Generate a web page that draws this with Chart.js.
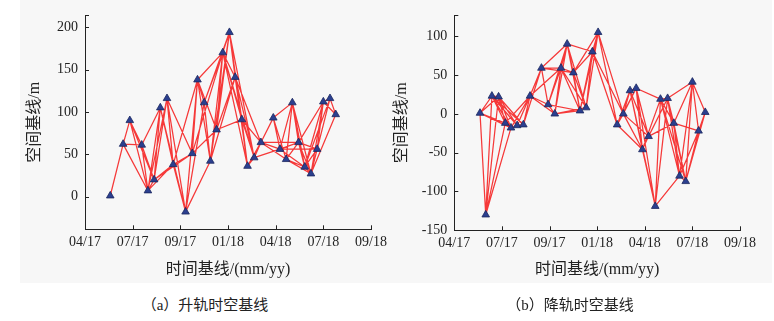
<!DOCTYPE html>
<html>
<head>
<meta charset="utf-8">
<script src="https://cdn.jsdelivr.net/npm/chart.js@4/dist/chart.umd.min.js"></script>
<style>
  html, body { margin: 0; padding: 0; background: #ffffff; }
  #wrap { position: relative; width: 774px; height: 321px; overflow: hidden; background: #ffffff; }
  #panelBg { position: absolute; left: 20px; top: 0; width: 752px; height: 283px; background: #f7f7f7; }
  .cv { position: absolute; top: 0; }
  .cap { position: absolute; top: 294px; font-family: 'Liberation Serif', 'Times New Roman', 'Noto Sans CJK SC', serif; font-size: 15px; color: #222; white-space: nowrap; transform: translateX(-50%); line-height: 22px; }
</style>
</head>
<body>
<div id="wrap">
  <div id="panelBg"></div>
  <div class="cv" style="left:0px;width:392px;height:290px;"><canvas id="cA"></canvas></div>
  <div class="cv" style="left:380px;width:394px;height:290px;"><canvas id="cB"></canvas></div>
  <div class="cap" style="left:205px;">（a）升轨时空基线</div>
  <div class="cap" style="left:570px;">（b）降轨时空基线</div>
</div>
<script>
// ---- tick labels (x positions 0..6) ----
const xTickLabels = ['04/17', '07/17', '09/17', '01/18', '04/18', '07/18', '09/18'];
const yTicksA = [0, 50, 100, 150, 200];
const yTicksB = [-150, -100, -50, 0, 50, 100];

// ---- (a) ascending: acquisition time (axis units) and spatial baseline (m) ----
const timeA = [0.53,0.80,0.94,1.19,1.32,1.45,1.58,1.72,1.85,2.11,2.25,2.36,2.50,2.63,2.76,2.89,3.03,3.15,3.29,3.41,3.55,3.69,3.95,4.09,4.22,4.35,4.48,4.61,4.74,4.87,5.00,5.14,5.26];
const baseA = [1,62,90,61,7,20,105,116,38,-18,51,138,111,42,79,170,194,141,91,36,46,64,93,56,44,111,64,35,27,56,112,116,97];
// interferometric pairs (1-based image indices)
const pairsA = [
  [1,2],[2,3],[2,4],[2,5],[3,4],[3,5],[3,6],[4,5],[4,6],[4,7],
  [5,6],[5,7],[5,8],[5,9],[6,7],[6,8],[6,9],[6,11],[7,9],[7,10],
  [8,9],[8,10],[8,11],[9,10],[9,11],[9,12],[10,12],[10,13],[10,14],
  [11,12],[11,15],[11,16],[12,13],[12,14],[12,15],[12,16],[13,14],[13,16],[13,17],
  [14,16],[14,17],[14,18],[15,16],[15,17],[15,18],[15,19],
  [16,17],[16,18],[16,19],[16,20],[16,21],[17,18],[17,19],[17,20],[17,21],
  [18,19],[18,20],[18,21],[18,22],[19,20],[19,21],[19,22],[20,21],[20,22],[21,22],[21,24],
  [22,23],[22,24],[22,25],[22,27],[23,24],[23,25],[23,26],
  [24,26],[24,27],[24,28],[24,30],[25,26],[25,27],[25,28],[25,29],
  [26,27],[26,28],[26,29],[27,28],[27,29],[27,30],[27,31],
  [28,29],[28,30],[28,31],[28,32],[29,30],[29,31],[29,32],[29,33],
  [30,31],[30,32],[31,32],[31,33],[32,33]
];

// ---- (b) descending ----
const timeB = [0.54,0.66,0.79,0.93,1.07,1.19,1.32,1.45,1.59,1.83,1.97,2.11,2.24,2.37,2.50,2.64,2.77,2.90,3.02,3.42,3.55,3.69,3.82,3.95,4.08,4.22,4.33,4.48,4.61,4.73,4.86,5.00,5.13,5.27];
const baseB = [1,-130,23,22,-12,-18,-15,-14,23,59,12,0,59,90,53,4,8,80,105,-14,0,30,33,-46,-29,-119,19,20,-12,-80,-87,41,-22,2];
const pairsB = [
  [1,2],[1,3],[1,4],[1,5],[1,6],[2,3],[2,4],[2,5],[2,6],
  [3,4],[3,5],[3,6],[3,7],[3,8],[4,5],[4,6],[4,7],[4,8],
  [5,6],[5,9],[6,7],[6,9],[7,8],[7,9],[8,9],[8,10],
  [9,10],[9,11],[9,12],[9,13],[10,11],[10,13],[10,14],[10,15],
  [11,12],[11,13],[11,14],[11,16],[12,13],[12,14],[12,16],[12,17],
  [13,14],[13,15],[13,16],[13,17],[14,15],[14,16],[14,17],[14,18],
  [15,16],[15,17],[15,18],[15,19],[16,18],[16,19],[17,18],[17,19],[18,19],
  [18,20],[18,21],[19,20],[19,21],
  [20,21],[20,22],[20,23],[20,24],[21,22],[21,23],[21,24],[21,25],
  [22,23],[22,24],[22,25],[22,26],[23,24],[23,25],[23,26],[23,27],
  [24,25],[24,26],[24,27],[25,28],[25,29],[26,27],[26,28],[26,30],
  [27,28],[27,29],[27,30],[27,31],[28,29],[28,30],[28,31],[28,32],
  [29,30],[29,31],[29,32],[29,33],[30,31],[30,32],[30,33],
  [31,32],[31,33],[31,34],[32,33],[32,34],[33,34]
];

const FONT_FAMILY = "'Liberation Serif', 'Times New Roman', 'Noto Sans CJK SC', serif";

function buildEdges(t, b, pairs) {
  const out = [];
  pairs.forEach(([i, j]) => {
    out.push({x: t[i - 1], y: b[i - 1]});
    out.push({x: t[j - 1], y: b[j - 1]});
    out.push({x: t[j - 1], y: null});
  });
  return out;
}

const innerTicks = {
  id: 'innerTicks',
  afterDraw(chart) {
    const {ctx, chartArea} = chart;
    const xs = chart.scales.x, ys = chart.scales.y;
    ctx.save();
    ctx.strokeStyle = '#222';
    ctx.lineWidth = 1;
    ctx.beginPath();
    xs.ticks.forEach(tk => {
      const px = Math.round(xs.getPixelForValue(tk.value)) + 0.5;
      ctx.moveTo(px, chartArea.bottom);
      ctx.lineTo(px, chartArea.bottom - 4);
    });
    const yv = ys.ticks.map(tk => tk.value).concat([ys.max]);
    yv.forEach(v => {
      const py = Math.round(ys.getPixelForValue(v)) + 0.5;
      ctx.moveTo(chartArea.left, py);
      ctx.lineTo(chartArea.left + 4, py);
    });
    ctx.stroke();
    ctx.restore();
  }
};

function makeChart(id, t, b, pairs, yMin, yMax, yTicks, cfg) {
  const edges = buildEdges(t, b, pairs);
  const pts = t.map((v, i) => ({x: v, y: b[i]}));
  return new Chart(document.getElementById(id), {
    type: 'scatter',
    data: {
      datasets: [
        {
          data: edges,
          showLine: true,
          spanGaps: false,
          borderColor: 'rgba(245,35,35,0.9)',
          borderWidth: 1.25,
          pointRadius: 0,
          pointHoverRadius: 0,
          order: 2
        },
        {
          data: pts,
          pointStyle: 'triangle',
          pointRadius: 4.4,
          pointHoverRadius: 4.4,
          backgroundColor: '#2b3f8f',
          borderColor: '#1b275e',
          borderWidth: 0.8,
          order: 1
        }
      ]
    },
    options: {
      responsive: true,
      maintainAspectRatio: false,
      animation: false,
      events: [],
      layout: { padding: { left: 0, right: cfg.padRight, top: 9.3, bottom: 0 } },
      plugins: { legend: { display: false }, tooltip: { enabled: false } },
      scales: {
        x: {
          type: 'linear',
          min: 0, max: 6,
          afterBuildTicks: s => { s.ticks = xTickLabels.map((_, i) => ({value: i})); },
          afterFit: s => { s.height = 290 - cfg.bottom; },
          grid: { display: false, drawTicks: false },
          border: { display: true, color: '#222', width: 1 },
          ticks: {
            padding: 5,
            maxRotation: 0,
            autoSkip: false,
            color: '#222',
            font: { family: FONT_FAMILY, size: 14 },
            callback: v => xTickLabels[v]
          },
          title: {
            display: true,
            text: '时间基线/(mm/yy)',
            color: '#222',
            font: { family: FONT_FAMILY, size: 16 },
            padding: { top: 0, bottom: 11 }
          }
        },
        y: {
          type: 'linear',
          min: yMin, max: yMax,
          afterBuildTicks: s => { s.ticks = yTicks.map(v => ({value: v})); },
          afterFit: s => { s.width = cfg.left; },
          grid: { display: false, drawTicks: false },
          border: { display: true, color: '#222', width: 1 },
          ticks: {
            padding: 7,
            color: '#222',
            font: { family: FONT_FAMILY, size: 14 }
          },
          title: {
            display: true,
            text: '空间基线/m',
            color: '#222',
            font: { family: FONT_FAMILY, size: 16 },
            padding: { top: cfg.titlePad, bottom: 0 }
          }
        }
      }
    },
    plugins: [innerTicks]
  });
}

makeChart('cA', timeA, baseA, pairsA, -38.6, 214, yTicksA, { left: 85, padRight: 21, bottom: 229.3, titlePad: 25 });
makeChart('cB', timeB, baseB, pairsB, -150, 126.8, yTicksB, { left: 74.3, padRight: 34, bottom: 230.3, titlePad: 12 });
</script>
</body>
</html>
